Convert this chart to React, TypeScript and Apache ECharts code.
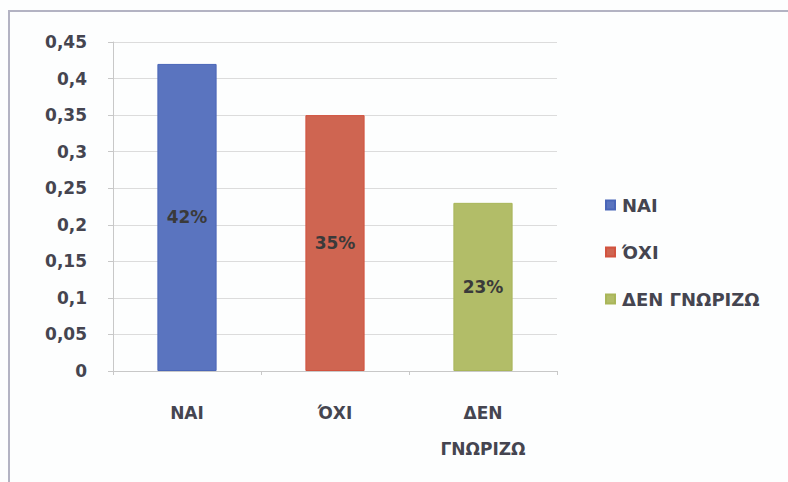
import React, { useEffect, useRef } from "react";
import * as echarts from "echarts";

const categories = ["NAI", "ΌΧΙ", "ΔΕΝ\nΓΝΩΡΙΖΩ"];
const seriesNames = ["NAI", "ΌΧΙ", "ΔΕΝ ΓΝΩΡΙΖΩ"];
const values = [0.42, 0.35, 0.23];
const colors = ["#5a74bf", "#cf6551", "#b2bd68"];
const borderColors = ["#4a66b8", "#d2533f", "#a9b659"];
const yMin = 0;
const yMax = 0.45;
const yStep = 0.05;

const FONT = "DejaVu Sans";

export default function App() {
  const ref = useRef<HTMLDivElement>(null);
  useEffect(() => {
    if (!ref.current) return;
    const chart = echarts.init(ref.current, null, { renderer: "svg" });
    const series = seriesNames.map((name, i) => ({
      name,
      type: "bar",
      stack: "all",
      barCategoryGap: "60%",
      data: values.map((v, j) => (j === i ? v : "-")),
      itemStyle: { color: colors[i], borderColor: borderColors[i], borderWidth: 1 },
      label: {
        show: true,
        position: "inside",
        formatter: (p: any) => Math.round(p.value * 100) + "%",
        fontFamily: FONT,
        fontSize: 17,
        fontWeight: "bold",
        color: "#3a3a3a",
      },
    }));
    chart.setOption({
      animation: false,
      backgroundColor: "#fdfefe",
      textStyle: { fontFamily: FONT },
      graphic: [
        {
          type: "rect",
          shape: { x: 9, y: 11, width: 820, height: 520 },
          style: { fill: "none", stroke: "#b3b3c3", lineWidth: 2 },
          silent: true,
        },
      ],
      grid: { left: 113, right: 231, top: 42, bottom: 111 },
      legend: {
        orient: "vertical",
        left: 600,
        top: 191,
        itemWidth: 9,
        itemHeight: 9,
        itemGap: 29,
        icon: "rect",
        textStyle: {
          fontFamily: FONT,
          fontSize: 18,
          fontWeight: "bold",
          color: "#454550",
          lineHeight: 18,
          padding: [0, 0, 0, 2],
        },
        data: seriesNames,
      },
      xAxis: {
        type: "category",
        data: categories,
        axisLine: { lineStyle: { color: "#c8c8c8" } },
        axisTick: { show: true, length: 4, lineStyle: { color: "#c8c8c8" } },
        axisLabel: {
          fontFamily: FONT,
          fontSize: 17,
          fontWeight: "bold",
          color: "#454550",
          lineHeight: 36,
          margin: 24,
        },
      },
      yAxis: {
        type: "value",
        min: yMin,
        max: yMax,
        interval: yStep,
        axisLine: { show: true, lineStyle: { color: "#c8c8c8" } },
        axisTick: { show: true, length: 5, lineStyle: { color: "#c8c8c8" } },
        splitLine: { lineStyle: { color: "#dcdcdc" } },
        axisLabel: {
          fontFamily: FONT,
          fontSize: 17,
          fontWeight: "bold",
          color: "#454550",
          margin: 26,
          formatter: (v: number) => String(Math.round(v * 100) / 100).replace(".", ","),
        },
      },
      series,
    });
    return () => chart.dispose();
  }, []);
  return (
    <div
      ref={ref}
      style={{ position: "fixed", left: 0, top: 0, width: 788, height: 482, background: "#ffffff" }}
    />
  );
}
